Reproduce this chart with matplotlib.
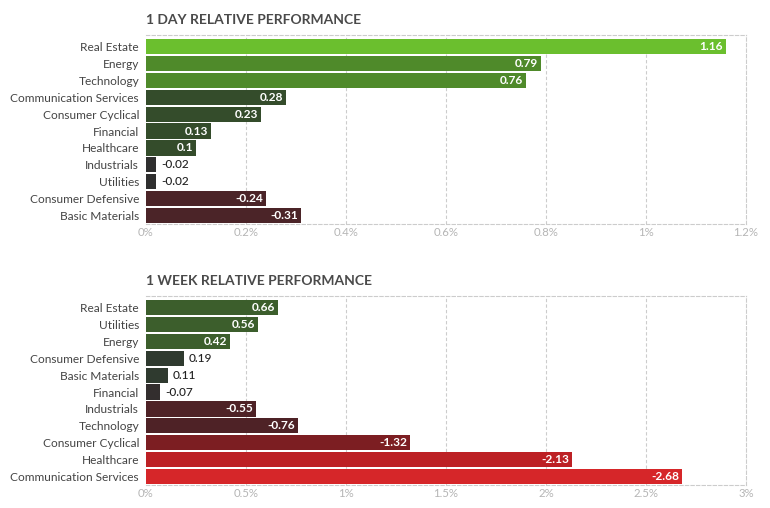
import matplotlib
matplotlib.use("Agg")
import matplotlib.pyplot as plt

plt.rcParams['font.family'] = ['Lato', 'DejaVu Sans']

day_title = "1 DAY RELATIVE PERFORMANCE"
day_sectors = ["Real Estate", "Energy", "Technology", "Communication Services",
               "Consumer Cyclical", "Financial", "Healthcare", "Industrials",
               "Utilities", "Consumer Defensive", "Basic Materials"]
day_values = [1.16, 0.79, 0.76, 0.28, 0.23, 0.13, 0.1, -0.02, -0.02, -0.24, -0.31]
day_ticks = [0, 0.2, 0.4, 0.6, 0.8, 1.0, 1.2]
day_ticklabels = ["0%", "0.2%", "0.4%", "0.6%", "0.8%", "1%", "1.2%"]

week_title = "1 WEEK RELATIVE PERFORMANCE"
week_sectors = ["Real Estate", "Utilities", "Energy", "Consumer Defensive",
                "Basic Materials", "Financial", "Industrials", "Technology",
                "Consumer Cyclical", "Healthcare", "Communication Services"]
week_values = [0.66, 0.56, 0.42, 0.19, 0.11, -0.07, -0.55, -0.76, -1.32, -2.13, -2.68]
week_ticks = [0, 0.5, 1.0, 1.5, 2.0, 2.5, 3.0]
week_ticklabels = ["0%", "0.5%", "1%", "1.5%", "2%", "2.5%", "3%"]

day_colors = ["#6bbf2e", "#4f8a2a", "#4f8a2a", "#344c2b", "#344c2b", "#344c2b",
              "#344c2b", "#2f2f2f", "#2f2f2f", "#4b2428", "#4b2428"]
week_colors = ["#3c5e2c", "#3c5e2c", "#3c5e2c", "#2f3a2f", "#2f3a2f", "#332e2e",
               "#4e2226", "#4e2226", "#7c1e22", "#bd2125", "#d62629"]

fig = plt.figure(figsize=(7.7, 5.08), dpi=100)
W, H = 770, 508


def panel(top_px, bottom_px, title, sectors, values, colors, ticks, ticklabels):
    left, right = 146, 746
    ax = fig.add_axes([left / W, 1 - bottom_px / H, (right - left) / W, (bottom_px - top_px) / H])
    n = len(sectors)
    ys = list(range(n))
    widths = [abs(v) for v in values]
    ax.barh(ys, widths, height=0.9, color=colors, edgecolor='none', zorder=3)
    ax.set_ylim(n - 0.5, -0.68)
    ax.set_xlim(ticks[0], ticks[-1])
    ax.set_yticks(ys)
    ax.set_yticklabels(sectors, fontsize=8.6, color="#444444")
    ax.set_xticks(ticks)
    ax.set_xticklabels(ticklabels, fontsize=8.2, color="#b5b5b5")
    ax.tick_params(axis='both', length=0)
    ax.tick_params(axis='y', pad=5)
    ax.tick_params(axis='x', pad=2)
    for t in ticks[1:-1]:
        ax.axvline(t, color="#cccccc", lw=0.8, ls=(0, (3, 2)), zorder=1)
    for s in ax.spines.values():
        s.set_color("#cccccc")
        s.set_linewidth(0.8)
        s.set_linestyle((0, (3, 2)))
    ax.spines['left'].set_visible(False)
    ax.text(0, 1.0 + 9 / (bottom_px - top_px), title, transform=ax.transAxes,
            ha='left', va='bottom', fontsize=10, fontweight='bold', color="#4a4a4a")
    fig.canvas.draw()
    renderer = fig.canvas.get_renderer()
    px_per_unit = (right - left) / (ticks[-1] - ticks[0])
    for y, v, w in zip(ys, values, widths):
        label = f"{v:g}"
        t = ax.text(w, y, label, ha='right', va='center', fontsize=8.6,
                    fontweight='bold', color='white', zorder=4)
        tw = t.get_window_extent(renderer).width
        bar_px = w * px_per_unit
        if tw + 20 < bar_px:
            t.set_x(w - 3 / px_per_unit)
        else:
            t.set_x(w + 5 / px_per_unit)
            t.set_ha('left')
            t.set_color("#222222")
            t.set_fontweight('medium')
    return ax


panel(35, 224, day_title, day_sectors, day_values, day_colors, day_ticks, day_ticklabels)
panel(296, 485, week_title, week_sectors, week_values, week_colors, week_ticks, week_ticklabels)

fig.savefig("out.png", dpi=100)
